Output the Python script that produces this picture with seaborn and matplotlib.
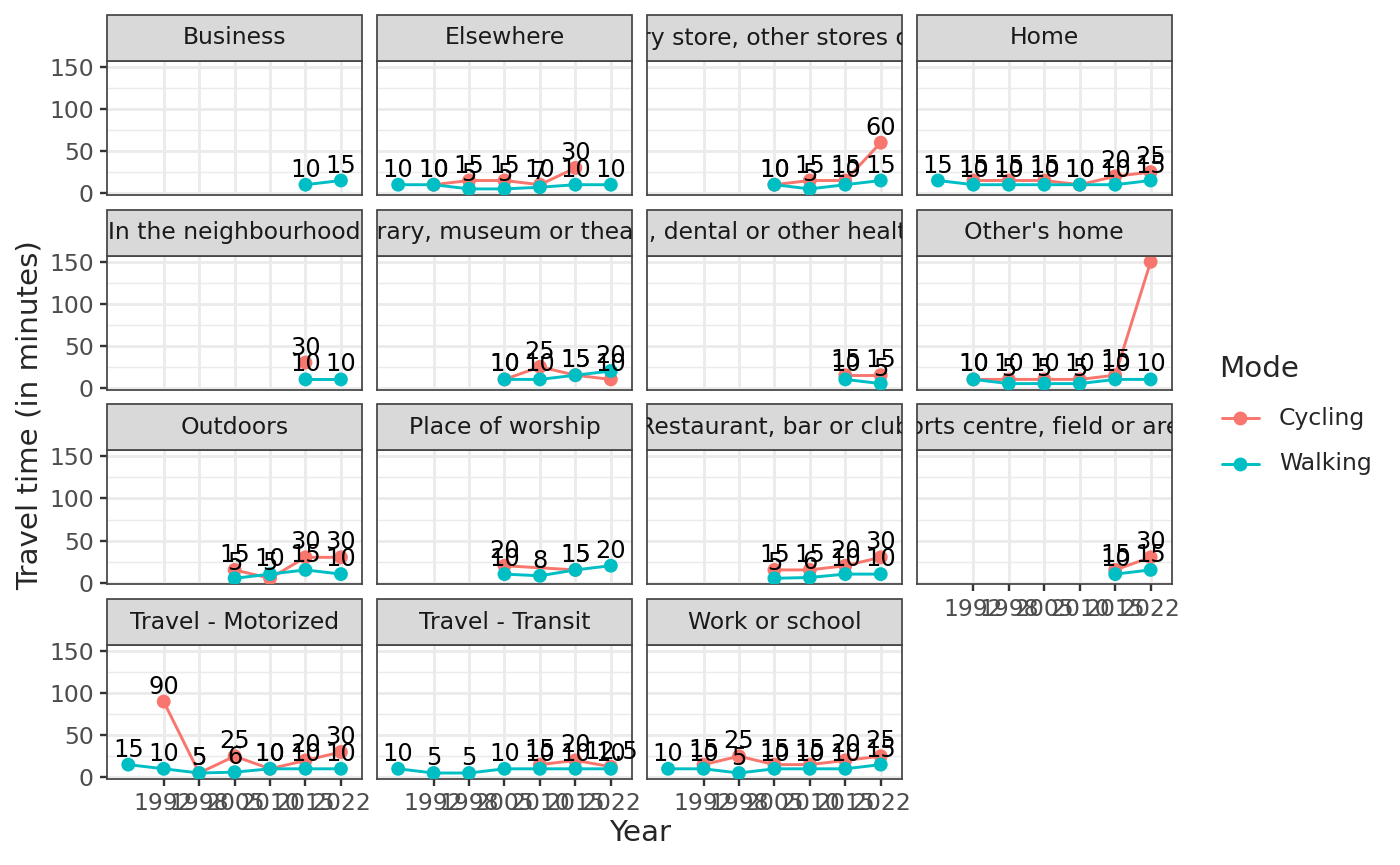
import matplotlib
matplotlib.use("Agg")
import matplotlib.pyplot as plt
from matplotlib.patches import Rectangle
from matplotlib.lines import Line2D
from matplotlib.transforms import Bbox, TransformedBbox
import seaborn as sns
import pandas as pd

# Dados do grafico
years = [1986, 1992, 1998, 2005, 2010, 2015, 2022]
year_ticks = ['1992', '1998', '2005', '2010', '2015', '2022']
modes = ['Cycling', 'Walking']
mode_colors = ['#F8766D', '#00BFC4']
locations = [
    'Business', 'Elsewhere', 'Grocery store, other stores or mall', 'Home',
    'In the neighbourhood', 'Library, museum or theatre',
    'Medical, dental or other health clinic', "Other's home",
    'Outdoors', 'Place of worship', 'Restaurant, bar or club',
    'Sports centre, field or arena',
    'Travel - Motorized', 'Travel - Transit', 'Work or school',
]
N = None
cycling_min = [
    [N, N, N, N, N, N, N],
    [N, 10, 15, 15, 10, 30, N],
    [N, N, N, 10, 15, 15, 60],
    [N, 15, 15, 15, 10, 20, 25],
    [N, N, N, N, N, 30, N],
    [N, N, N, 10, 25, 15, 10],
    [N, N, N, N, N, 15, 15],
    [N, 10, 10, 10, 10, 15, 150],
    [N, N, N, 15, 5, 30, 30],
    [N, N, N, 20, N, 15, N],
    [N, N, N, 15, 15, 20, 30],
    [N, N, N, N, N, 15, 30],
    [N, 90, 5, 25, 10, 20, 30],
    [N, N, N, N, 15, 20, 12.5],
    [N, 15, 25, 15, 15, 20, 25],
]
walking_min = [
    [N, N, N, N, N, 10, 15],
    [10, 10, 5, 5, 7, 10, 10],
    [N, N, N, 10, 5, 10, 15],
    [15, 10, 10, 10, 10, 10, 15],
    [N, N, N, N, N, 10, 10],
    [N, N, N, 10, 10, 15, 20],
    [N, N, N, N, N, 10, 5],
    [N, 10, 5, 5, 5, 10, 10],
    [N, N, N, 5, 10, 15, 10],
    [N, N, N, 10, 8, 15, 20],
    [N, N, N, 5, 6, 10, 10],
    [N, N, N, N, N, 10, 15],
    [15, 10, 5, 6, 10, 10, 10],
    [10, 5, 5, 10, 10, 10, 10],
    [10, 10, 5, 10, 10, 10, 15],
]

linhas = []
for loc, cyc, wal in zip(locations, cycling_min, walking_min):
    for k, ano in enumerate(years):
        for modo, vals in zip(modes, [cyc, wal]):
            if vals[k] is not None:
                linhas.append({'Location': loc, 'Year': ano, 'pos': k,
                               'Mode': modo, 'Minutes': vals[k]})
Dados = pd.DataFrame(linhas)

# Layout (em pixels da imagem 1400x865)
W, H, DPI = 1400, 865, 192
LEFT0, TOP0 = 107, 61
PW, PH, STRIP = 255.2, 134, 46
PX, PY = 269.9, 194.7
BORDA = '#444444'

sns.set_style("white")
plt.rcParams['font.family'] = ['DejaVu Sans']
fig = plt.figure(figsize=(W / DPI, H / DPI), dpi=DPI)
paleta = dict(zip(modes, mode_colors))

def eixo(left, top, w, h):
    return fig.add_axes([left / W, 1 - (top + h) / H, w / W, h / H])

for i, loc in enumerate(locations):
    r, c = divmod(i, 4)
    ax = eixo(LEFT0 + c * PX, TOP0 + r * PY, PW, PH)
    sub = Dados[Dados['Location'] == loc]

    ax.set_xlim(-0.6, 6.6)
    ax.set_ylim(-2.25, 157.25)
    ax.set_xticks(range(1, 7))
    ax.set_yticks([0, 50, 100, 150])
    ax.set_yticks([25, 75, 125], minor=True)
    ax.set_axisbelow(True)
    ax.grid(which='major', color='#EBEBEB', linewidth=1.07)
    ax.grid(which='minor', axis='y', color='#EBEBEB', linewidth=0.55)
    for s in ax.spines.values():
        s.set_color(BORDA)
        s.set_linewidth(0.65)

    sns.lineplot(data=sub, x='pos', y='Minutes', hue='Mode', hue_order=modes,
                 palette=paleta, estimator=None, linewidth=1.1, legend=False, ax=ax)
    sns.scatterplot(data=sub, x='pos', y='Minutes', hue='Mode', hue_order=modes,
                    palette=paleta, s=27, linewidth=0, legend=False, ax=ax, zorder=3)
    for _, row in sub.iterrows():
        ax.annotate(f"{row['Minutes']:g}", (row['pos'], row['Minutes']),
                    xytext=(0, 3.0), textcoords='offset points', ha='center',
                    va='baseline', fontsize=9, color='black', zorder=4)

    ax.set_xlabel('')
    ax.set_ylabel('')
    show_x = i >= len(locations) - 4
    show_y = c == 0
    ax.tick_params(axis='both', which='major', length=2.75, width=0.9,
                   color='#333333', labelcolor='#4D4D4D', labelsize=8.8, pad=2.2)
    ax.tick_params(axis='both', which='minor', length=0)
    ax.set_xticklabels(year_ticks)
    ax.tick_params(axis='x', bottom=show_x, labelbottom=show_x)
    ax.tick_params(axis='y', left=show_y, labelleft=show_y)

    # faixa com o titulo
    faixa = Rectangle((0, 1), 1, STRIP / PH, transform=ax.transAxes,
                      facecolor='#D9D9D9', edgecolor=BORDA, linewidth=0.65,
                      clip_on=False, zorder=5)
    ax.add_patch(faixa)
    caixa = TransformedBbox(Bbox([[0, 1], [1, 1 + STRIP / PH]]), ax.transAxes)
    t = ax.text(0.5, 1 + STRIP / PH / 2, loc, transform=ax.transAxes,
                ha='center', va='center', fontsize=8.8, color='#1A1A1A', zorder=6)
    t.set_clip_on(True)
    t.set_clip_box(caixa)

fig.text(640 / W, 1 - 833 / H, 'Year', ha='center', va='center', fontsize=11)
fig.text(30 / W, 1 - 415 / H, 'Travel time (in minutes)', ha='center', va='center',
         rotation=90, fontsize=11)

# legenda
fig.text(1219 / W, 1 - 377 / H, 'Mode', ha='left', va='baseline', fontsize=11)
for modo, cor, yk in zip(modes, mode_colors, [418, 464]):
    fig.add_artist(Line2D([1222 / W, 1259 / W], [1 - yk / H, 1 - yk / H],
                          transform=fig.transFigure, color=cor, linewidth=1.1))
    fig.add_artist(Line2D([1240 / W], [1 - yk / H], transform=fig.transFigure,
                          color=cor, marker='o', markersize=5.2, markeredgewidth=0,
                          linestyle='none'))
    fig.text(1279 / W, 1 - yk / H, modo, ha='left', va='center', fontsize=8.8)

fig.savefig('out.png', dpi=DPI)
